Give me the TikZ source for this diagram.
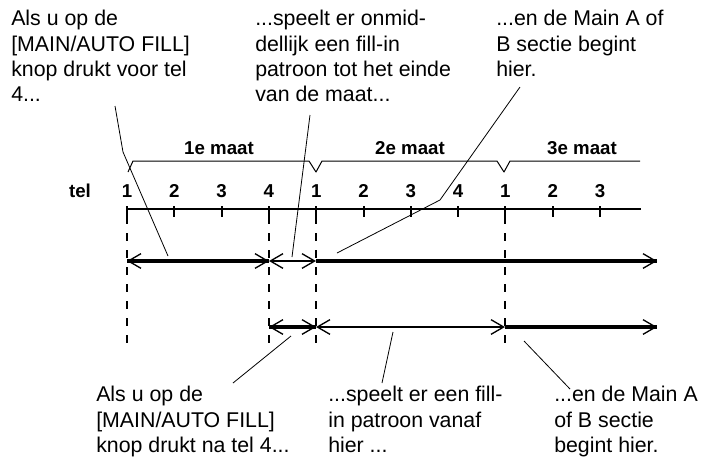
\documentclass[tikz,border=0pt]{standalone}
\usepackage{fontspec}
\setmainfont{Liberation Sans}
\usetikzlibrary{arrows.meta}

\begin{document}
\begin{tikzpicture}[x=0.75pt,y=-0.75pt,line join=round,
		>={Straight Barb[length=9.5pt,width=11pt]},
		txt/.style={anchor=north west,inner sep=0pt,align=left,font=\fontsize{16}{19}\selectfont},
		lbl/.style={inner sep=0pt,anchor=base,font=\bfseries\fontsize{14}{16}\selectfont},
		leader/.style={line width=0.6pt},
		thickline/.style={line width=2.4pt},
		thinarrow/.style={line width=1pt},
		guide/.style={line width=1.5pt,dash pattern=on 6pt off 6.75pt}]
		\useasboundingbox (0,0) rectangle (701,462);
		% tel-as
		\node[lbl] (tel) at (80,197) {tel};
		\foreach \i in {0,...,10} \coordinate (b\i) at (127+47.3*\i,209);
		\draw[line width=1.1pt] (b0)--(641,209);
		\foreach \i/\n in {0/1,1/2,2/3,3/4,4/1,5/2,6/3,7/4,8/1,9/2,10/3} {
			\draw[line width=1.5pt] (b\i) ++(0,-3) -- ++(0,11);
			\node[lbl] (n\i) at (127+47.3*\i,197) {\n};
		}
		\foreach \i in {0,3,4,8} \draw[guide] (b\i) ++(0,7) -- ++(0,129);
		% maten
		\draw[line width=0.75pt] (128,172)--(133,161)--(309,161)--(316,172)--(322,161)--(497,161)--(504,172)--(510,161)--(640,161);
		\node[lbl] (m1) at (219,154) {1e maat};
		\node[lbl] (m2) at (410,154) {2e maat};
		\node[lbl] (m3) at (582,154) {3e maat};
		% bovenste rij
		\coordinate (A1) at (127,261);
		\coordinate (A4) at (269,261);
		\coordinate (B1) at (316,261);
		\coordinate (AE) at (657,261);
		\draw[thickline] (A1)--(A4);
		\draw[thickline] (B1)--(AE);
		\draw[thinarrow,<->] (A1)--(A4);
		\draw[thinarrow,<->] (A4)--(B1);
		\draw[thinarrow,->] (B1)--(AE);
		% onderste rij
		\coordinate (C4) at (269,327);
		\coordinate (D1) at (316,327);
		\coordinate (E1) at (505,327);
		\coordinate (CE) at (657,327);
		\draw[thickline] (C4)--(D1);
		\draw[thickline] (E1)--(CE);
		\draw[thinarrow,<->] (C4)--(D1);
		\draw[thinarrow,<->] (D1)--(E1);
		\draw[thinarrow,->] (E1)--(CE);
		% teksten
		\node[txt] (voor) at (11,10) {Als u op de\\{[MAIN/AUTO FILL]}\\knop drukt voor tel\\4...};
		\node[txt] (onmid) at (255,10) {...speelt er onmid-\\dellijk een fill-in\\patroon tot het einde\\van de maat...};
		\node[txt] (mainA) at (496,10) {...en de Main A of\\B sectie begint\\hier.};
		\node[txt] (natel) at (96,386) {Als u op de\\{[MAIN/AUTO FILL]}\\knop drukt na tel 4...};
		\node[txt] (vanaf) at (328,386) {...speelt er een fill-\\in patroon vanaf\\hier ...};
		\node[txt] (begint) at (554,386) {...en de Main A\\of B sectie\\begint hier.};
		% verwijslijnen
		\coordinate (v1) at (115,106);
		\coordinate (v2) at (168,256);
		\coordinate (o1) at (310,115);
		\coordinate (o2) at (292,257);
		\coordinate (h1) at (520,87);
		\coordinate (h2) at (337,253);
		\coordinate (k1) at (233,383);
		\coordinate (k2) at (291,336);
		\coordinate (s1) at (382,383);
		\coordinate (s2) at (393,332);
		\coordinate (g1) at (570,389);
		\coordinate (g2) at (524,341);
		\draw[leader] (v1)--(123,152)--(v2);
		\draw[leader] (o1)--(o2);
		\draw[leader] (h1)--(440,200)--(h2);
		\draw[leader] (k1)--(k2);
		\draw[leader] (s1)--(s2);
		\draw[leader] (g1)--(g2);
	\end{tikzpicture}
\end{document}
